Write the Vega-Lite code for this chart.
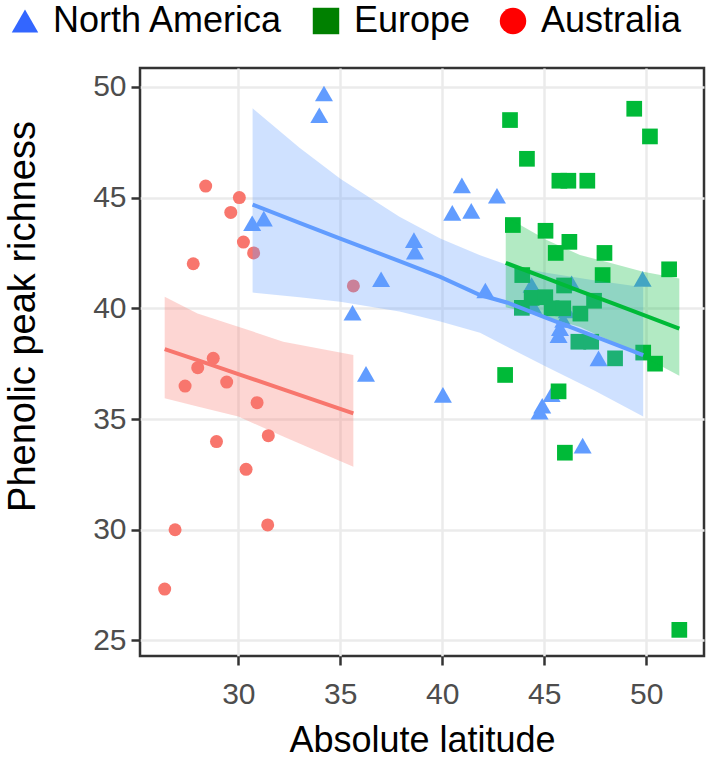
{
  "$schema": "https://vega.github.io/schema/vega-lite/v6.json",
  "width": 564,
  "height": 588,
  "autosize": {"type": "none"},
  "padding": {"left": 140, "top": 68, "right": 5, "bottom": 111},
  "background": "white",
  "config": {
    "font": "Liberation Sans",
    "view": {"stroke": "#333333", "strokeWidth": 2.5},
    "axis": {
      "grid": true,
      "gridColor": "#EBEBEB",
      "gridWidth": 2.5,
      "domain": false,
      "tickColor": "#333333",
      "tickWidth": 2.5,
      "tickSize": 9,
      "labelColor": "#4D4D4D",
      "labelFontSize": 30,
      "labelFont": "Liberation Sans",
      "titleFont": "Liberation Sans",
      "titleFontWeight": "normal",
      "titleColor": "#000000"
    }
  },
  "datasets": {
    "pts": [
      {"region": "Australia", "lat": 28.4, "richness": 45.52},
      {"region": "Australia", "lat": 30.05, "richness": 45.0},
      {"region": "Australia", "lat": 29.63, "richness": 44.33},
      {"region": "Australia", "lat": 30.25, "richness": 42.99},
      {"region": "Australia", "lat": 30.75, "richness": 42.5},
      {"region": "Australia", "lat": 27.79, "richness": 42.01},
      {"region": "Australia", "lat": 35.64, "richness": 41.01},
      {"region": "Australia", "lat": 28.77, "richness": 37.74},
      {"region": "Australia", "lat": 28.01, "richness": 37.32},
      {"region": "Australia", "lat": 27.39, "richness": 36.49},
      {"region": "Australia", "lat": 29.43, "richness": 36.67},
      {"region": "Australia", "lat": 30.92, "richness": 35.74},
      {"region": "Australia", "lat": 28.93, "richness": 33.98},
      {"region": "Australia", "lat": 31.47, "richness": 34.25},
      {"region": "Australia", "lat": 30.38, "richness": 32.73},
      {"region": "Australia", "lat": 26.9, "richness": 30.0},
      {"region": "Australia", "lat": 31.44, "richness": 30.22},
      {"region": "Australia", "lat": 26.39, "richness": 27.32},
      {"region": "North America", "lat": 34.2, "richness": 49.7},
      {"region": "North America", "lat": 33.97, "richness": 48.72},
      {"region": "North America", "lat": 30.68, "richness": 43.84},
      {"region": "North America", "lat": 31.25, "richness": 44.05},
      {"region": "North America", "lat": 38.61, "richness": 43.08},
      {"region": "North America", "lat": 38.66, "richness": 42.56},
      {"region": "North America", "lat": 37.0, "richness": 41.31},
      {"region": "North America", "lat": 35.6, "richness": 39.8},
      {"region": "North America", "lat": 36.26, "richness": 37.04},
      {"region": "North America", "lat": 40.96, "richness": 45.55},
      {"region": "North America", "lat": 42.68, "richness": 45.08},
      {"region": "North America", "lat": 40.49, "richness": 44.31},
      {"region": "North America", "lat": 41.42, "richness": 44.4},
      {"region": "North America", "lat": 42.11, "richness": 40.8},
      {"region": "North America", "lat": 44.38, "richness": 41.05},
      {"region": "North America", "lat": 46.34, "richness": 41.13},
      {"region": "North America", "lat": 49.82, "richness": 41.33},
      {"region": "North America", "lat": 46.1, "richness": 39.9},
      {"region": "North America", "lat": 45.93, "richness": 39.47},
      {"region": "North America", "lat": 45.77, "richness": 39.1},
      {"region": "North America", "lat": 45.7, "richness": 38.78},
      {"region": "North America", "lat": 47.66, "richness": 37.74},
      {"region": "North America", "lat": 40.03, "richness": 36.09},
      {"region": "North America", "lat": 45.36, "richness": 36.12},
      {"region": "North America", "lat": 44.9, "richness": 35.6},
      {"region": "North America", "lat": 44.77, "richness": 35.33},
      {"region": "North America", "lat": 46.88, "richness": 33.8},
      {"region": "North America", "lat": 44.45, "richness": 40.1},
      {"region": "Europe", "lat": 43.32, "richness": 48.5},
      {"region": "Europe", "lat": 49.41, "richness": 49.01},
      {"region": "Europe", "lat": 50.18, "richness": 47.76},
      {"region": "Europe", "lat": 44.15, "richness": 46.75},
      {"region": "Europe", "lat": 45.74, "richness": 45.76},
      {"region": "Europe", "lat": 46.18, "richness": 45.76},
      {"region": "Europe", "lat": 47.11, "richness": 45.76},
      {"region": "Europe", "lat": 43.46, "richness": 43.76},
      {"region": "Europe", "lat": 45.06, "richness": 43.5},
      {"region": "Europe", "lat": 46.23, "richness": 43.0},
      {"region": "Europe", "lat": 45.56, "richness": 42.5},
      {"region": "Europe", "lat": 47.95, "richness": 42.5},
      {"region": "Europe", "lat": 51.12, "richness": 41.76},
      {"region": "Europe", "lat": 47.86, "richness": 41.5},
      {"region": "Europe", "lat": 43.92, "richness": 41.5},
      {"region": "Europe", "lat": 45.97, "richness": 41.03},
      {"region": "Europe", "lat": 44.38, "richness": 40.47},
      {"region": "Europe", "lat": 45.05, "richness": 40.5},
      {"region": "Europe", "lat": 43.9, "richness": 40.02},
      {"region": "Europe", "lat": 45.36, "richness": 40.0},
      {"region": "Europe", "lat": 45.93, "richness": 40.0},
      {"region": "Europe", "lat": 46.77, "richness": 39.76},
      {"region": "Europe", "lat": 47.44, "richness": 40.34},
      {"region": "Europe", "lat": 46.67, "richness": 38.49},
      {"region": "Europe", "lat": 47.3, "richness": 38.49},
      {"region": "Europe", "lat": 48.47, "richness": 37.74},
      {"region": "Europe", "lat": 49.85, "richness": 38.0},
      {"region": "Europe", "lat": 50.43, "richness": 37.5},
      {"region": "Europe", "lat": 43.08, "richness": 36.99},
      {"region": "Europe", "lat": 45.7, "richness": 36.25},
      {"region": "Europe", "lat": 46.01, "richness": 33.48},
      {"region": "Europe", "lat": 51.62, "richness": 25.48}
    ],
    "fits": [
      {"region": "North America", "lat": 30.7, "lo": 40.71, "fit": 44.68, "hi": 49.03},
      {"region": "North America", "lat": 33.0, "lo": 40.5, "fit": 43.86, "hi": 47.25},
      {"region": "North America", "lat": 35.0, "lo": 40.3, "fit": 43.15, "hi": 45.85},
      {"region": "North America", "lat": 37.9, "lo": 39.85, "fit": 42.13, "hi": 44.13},
      {"region": "North America", "lat": 39.9, "lo": 39.4, "fit": 41.42, "hi": 43.15},
      {"region": "North America", "lat": 41.85, "lo": 38.9, "fit": 40.6, "hi": 42.4},
      {"region": "North America", "lat": 43.2, "lo": 38.25, "fit": 40.25, "hi": 41.95},
      {"region": "North America", "lat": 45.1, "lo": 37.36, "fit": 39.57, "hi": 41.6},
      {"region": "North America", "lat": 47.5, "lo": 36.26, "fit": 38.72, "hi": 41.26},
      {"region": "North America", "lat": 49.85, "lo": 35.11, "fit": 37.89, "hi": 40.95},
      {"region": "Europe", "lat": 43.11, "lo": 40.05, "fit": 42.05, "hi": 44.13},
      {"region": "Europe", "lat": 45.12, "lo": 39.6, "fit": 41.35, "hi": 43.08},
      {"region": "Europe", "lat": 46.75, "lo": 39.15, "fit": 40.78, "hi": 42.41},
      {"region": "Europe", "lat": 48.3, "lo": 38.5, "fit": 40.24, "hi": 42.03},
      {"region": "Europe", "lat": 49.85, "lo": 37.82, "fit": 39.7, "hi": 41.65},
      {"region": "Europe", "lat": 51.62, "lo": 36.95, "fit": 39.08, "hi": 41.35},
      {"region": "Australia", "lat": 26.39, "lo": 35.94, "fit": 38.16, "hi": 40.52},
      {"region": "Australia", "lat": 28.0, "lo": 35.57, "fit": 37.66, "hi": 39.77},
      {"region": "Australia", "lat": 30.0, "lo": 35.11, "fit": 37.03, "hi": 39.17},
      {"region": "Australia", "lat": 32.2, "lo": 34.21, "fit": 36.34, "hi": 38.49},
      {"region": "Australia", "lat": 35.64, "lo": 32.85, "fit": 35.26, "hi": 37.89}
    ]
  },
  "resolve": {"scale": {"color": "independent", "shape": "independent"}},
  "layer": [
    {
      "layer": [
        {
          "data": {"name": "pts"},
          "mark": {"type": "point", "filled": true, "opacity": 1},
          "encoding": {
            "x": {
              "field": "lat", "type": "quantitative",
              "scale": {"domain": [25.18, 52.83], "nice": false, "zero": false},
              "axis": {"values": [30, 35, 40, 45, 50], "title": "Absolute latitude", "titleFontSize": 36, "labelPadding": 14, "titlePadding": 14}
            },
            "y": {
              "field": "richness", "type": "quantitative",
              "scale": {"domain": [24.3, 50.85], "nice": false, "zero": false},
              "axis": {"values": [25, 30, 35, 40, 45, 50], "title": "Phenolic peak richness", "titleFontSize": 38, "labelPadding": 5, "titlePadding": 50, "titleY": 248}
            },
            "color": {
              "field": "region", "type": "nominal",
              "scale": {"domain": ["North America", "Europe", "Australia"], "range": ["#619CFF", "#00BA38", "#F8766D"]},
              "legend": null
            },
            "shape": {
              "field": "region", "type": "nominal",
              "scale": {"domain": ["North America", "Europe", "Australia"], "range": ["triangle-up", "square", "circle"]},
              "legend": null
            },
            "size": {
              "field": "region", "type": "ordinal",
              "scale": {"domain": ["North America", "Europe", "Australia"], "range": [324, 169, 196]},
              "legend": null
            }
          }
        },
        {
          "data": {"name": "fits"},
          "mark": {"type": "area", "opacity": 0.3},
          "encoding": {
            "x": {"field": "lat", "type": "quantitative"},
            "y": {"field": "lo", "type": "quantitative"},
            "y2": {"field": "hi"},
            "color": {"field": "region", "type": "nominal", "legend": null}
          }
        },
        {
          "data": {"name": "fits"},
          "mark": {"type": "line", "strokeWidth": 4},
          "encoding": {
            "x": {"field": "lat", "type": "quantitative"},
            "y": {"field": "fit", "type": "quantitative"},
            "color": {"field": "region", "type": "nominal", "legend": null}
          }
        }
      ]
    },
    {
      "data": {"name": "pts"},
      "transform": [{"filter": "false"}],
      "mark": {"type": "point", "filled": true, "opacity": 1},
      "encoding": {
        "x": {"field": "lat", "type": "quantitative"},
        "y": {"field": "richness", "type": "quantitative"},
        "color": {
          "field": "region", "type": "nominal",
          "scale": {"domain": ["North America", "Europe", "Australia"], "range": ["#3366FF", "#008000", "#FF0000"]},
          "legend": {
            "title": null,
            "orient": "none",
            "direction": "horizontal",
            "legendX": -133,
            "legendY": -65,
            "padding": 0,
            "labelFontSize": 36,
            "labelFont": "Liberation Sans",
            "labelColor": "#000000",
            "labelLimit": 500,
            "labelOffset": 10,
            "columnPadding": 24,
            "symbolSize": 700,
            "symbolOpacity": 1
          }
        },
        "shape": {
          "field": "region", "type": "nominal",
          "scale": {"domain": ["North America", "Europe", "Australia"], "range": ["triangle-up", "square", "circle"]}
        }
      }
    }
  ]
}
